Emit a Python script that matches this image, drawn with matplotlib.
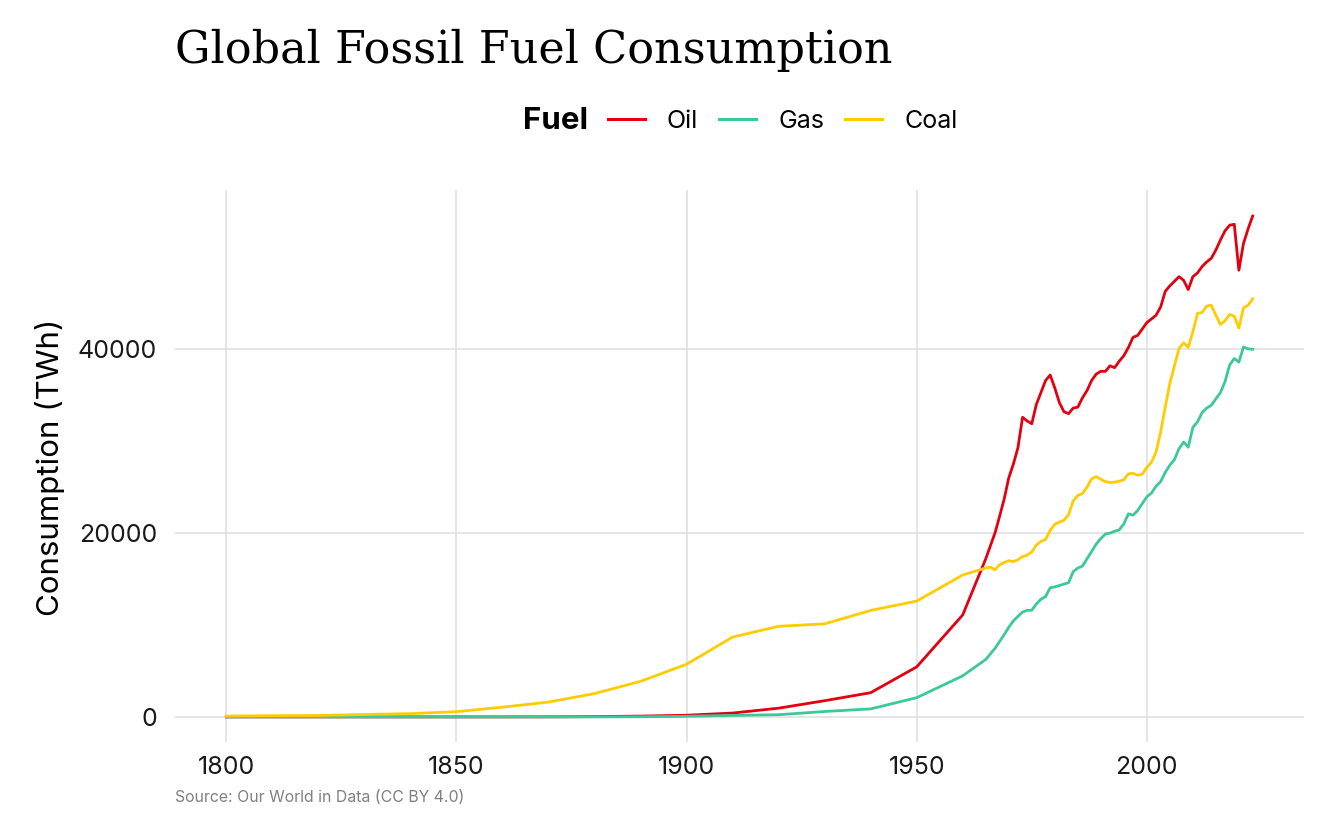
import matplotlib.pyplot as plt
from matplotlib.lines import Line2D

# years: decades until 1960, then yearly
years = list(range(1800, 1961, 10)) + list(range(1965, 2024))

oil_early = [0, 0, 0, 0, 0, 0, 0, 6, 33, 88, 181, 419, 950, 1763, 2635, 5444, 11097]
coal_early = [97, 128, 153, 264, 356, 569, 1061, 1614, 2538, 3869, 5728, 8688,
              9860, 10126, 11586, 12603, 15442]
gas_early = [0, 0, 0, 0, 0, 0, 0, 0, 0, 20, 64, 160, 240, 589, 871, 2092, 4472]

oil_late = [17200, 18600, 20000, 21800, 23700, 26000, 27500, 29300, 32600, 32200,
            31900, 34000, 35300, 36600, 37200, 35800, 34200, 33200, 33000, 33600,
            33700, 34700, 35500, 36600, 37300, 37600, 37600, 38200, 38000, 38700,
            39300, 40200, 41300, 41500, 42200, 42900, 43300, 43700, 44600, 46300,
            46900, 47400, 47900, 47500, 46500, 47900, 48300, 49000, 49500, 49900,
            50800, 51900, 52900, 53500, 53600, 48600, 51500, 53100, 54500]
coal_late = [16200, 16300, 16000, 16550, 16800, 17000, 16900, 17100, 17450, 17600,
             17950, 18700, 19100, 19300, 20300, 20950, 21200, 21400, 22000, 23500,
             24100, 24300, 25000, 25900, 26150, 25850, 25600, 25500, 25550, 25650,
             25800, 26450, 26500, 26300, 26400, 27150, 27700, 28800, 31000, 33700,
             36300, 38200, 40100, 40700, 40200, 41900, 43900, 44000, 44700, 44800,
             43700, 42700, 43100, 43800, 43600, 42300, 44500, 44800, 45500]
gas_late = [6250, 6850, 7450, 8200, 8950, 9750, 10450, 10950, 11400, 11600,
            11600, 12300, 12800, 13100, 14050, 14150, 14300, 14450, 14600, 15800,
            16200, 16400, 17200, 18000, 18800, 19400, 19900, 20000, 20200, 20350,
            21000, 22100, 21950, 22450, 23200, 23950, 24350, 25100, 25600, 26600,
            27400, 28000, 29200, 29900, 29350, 31500, 32100, 33100, 33600, 33900,
            34600, 35300, 36500, 38300, 39000, 38600, 40250, 40050, 40000]

oil = oil_early + oil_late
coal = coal_early + coal_late
gas = gas_early + gas_late

fuels = ['Oil', 'Gas', 'Coal']
colors = {'Oil': '#E3000F', 'Gas': '#3CC99A', 'Coal': '#FFCC00'}
series = {'Oil': oil, 'Gas': gas, 'Coal': coal}

plt.rcParams['font.family'] = ['Inter', 'DejaVu Sans']

W, H = 1344, 830
fig = plt.figure(figsize=(W / 100, H / 100), dpi=100)
ax = fig.add_axes([175 / W, 1 - 742 / H, (1304 - 175) / W, (742 - 190) / H])

for f in fuels:
    ax.plot(years, series[f], color=colors[f], lw=2.0, solid_joinstyle='round')

ax.set_xlim(1788.85, 2034.15)
ax.set_ylim(-2730, 57330)
ax.set_xticks([1800, 1850, 1900, 1950, 2000])
ax.set_yticks([0, 20000, 40000])
ax.grid(True, color='#DEDEDE', lw=1.1)
ax.set_axisbelow(True)
for s in ax.spines.values():
    s.set_visible(False)
ax.tick_params(length=0, labelsize=18, colors='#1a1a1a')
ax.tick_params(axis='x', pad=10)
ax.tick_params(axis='y', pad=13)

fig.text(50 / W, 1 - 467 / H, 'Consumption (TWh)', rotation=90, ha='center',
         va='center', fontsize=22.5, color='black')

fig.text(175 / W, 1 - 63 / H, 'Global Fossil Fuel Consumption',
         family='DejaVu Serif', fontsize=32, va='baseline')

fig.text(523 / W, 1 - 121 / H, 'Fuel', fontsize=22.5, fontweight='bold', va='center')
handles = [Line2D([], [], color=colors[f], lw=2.2) for f in fuels]
fig.legend(handles, fuels, loc='center left', bbox_to_anchor=(608 / W, 1 - 121 / H),
           ncol=3, frameon=False, fontsize=18, handlelength=1.48,
           handletextpad=0.88, columnspacing=0.84, borderpad=0, borderaxespad=0)

fig.text(175 / W, 1 - 802 / H, 'Source: Our World in Data (CC BY 4.0)',
         fontsize=11.4, color='#808080', va='baseline')

fig.savefig('out.png', dpi=100)
